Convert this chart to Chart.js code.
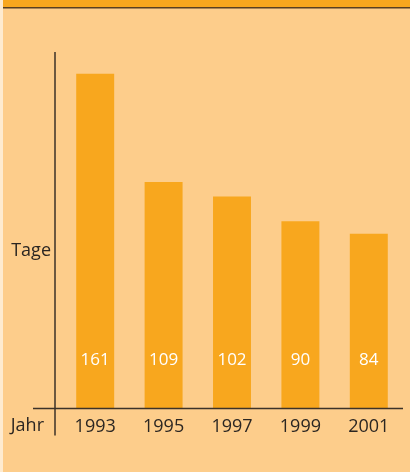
<!DOCTYPE html>
<html>
<head>
<meta charset="utf-8">
<script src="https://cdn.jsdelivr.net/npm/chart.js@4.4.1/dist/chart.umd.min.js"></script>
<style>
  html, body { margin: 0; padding: 0; background: #fdcd8b; }
  #wrap { width: 410px; height: 472px; }
</style>
</head>
<body>
<div id="wrap"><canvas id="chart" width="410" height="472"></canvas></div>
<script>
// data
const years = ['1993', '1995', '1997', '1999', '2001'];
const tage = [161, 109, 102, 90, 84];
const yLabel = 'Tage';
const xLabel = 'Jahr';

const BG = '#fdcd8b';
const BAR = '#f8a71e';
const INK = '#2b2622';
const FONT = '"Open Sans", "Noto Sans", sans-serif';

// background, header band, axis lines and side labels
const framePlugin = {
  id: 'frame',
  beforeDraw(chart) {
    const { ctx, width, height } = chart;
    ctx.save();
    ctx.fillStyle = '#feebd0';
    ctx.fillRect(0, 0, width, height);
    ctx.fillStyle = BG;
    ctx.fillRect(3, 0, width - 3, height);
    ctx.fillStyle = BAR;
    ctx.fillRect(3, 0, width - 3, 7);
    ctx.fillStyle = '#5a4020';
    ctx.fillRect(3, 7, width - 3, 1.5);
    ctx.restore();
  },
  afterDatasetsDraw(chart) {
    const { ctx, chartArea } = chart;
    const x = chart.scales.x;
    const axisX = chartArea.left - 6;
    ctx.save();
    ctx.strokeStyle = '#3c3228';
    ctx.lineWidth = 1.5;
    ctx.beginPath();
    ctx.moveTo(axisX, chartArea.top);
    ctx.lineTo(axisX, chartArea.bottom + 27);
    ctx.moveTo(33, chartArea.bottom);
    ctx.lineTo(chartArea.right, chartArea.bottom);
    ctx.stroke();

    ctx.fillStyle = INK;
    ctx.font = '18px ' + FONT;
    ctx.textAlign = 'right';
    ctx.textBaseline = 'middle';
    ctx.fillText(yLabel, axisX - 4, 251);
    ctx.fillText(xLabel, axisX - 11, chartArea.bottom + 17);

    // values inside bars
    ctx.fillStyle = '#ffffff';
    ctx.font = '17px ' + FONT;
    ctx.textAlign = 'center';
    tage.forEach((v, i) => {
      ctx.fillText(String(v), x.getPixelForValue(i), chartArea.bottom - 48);
    });
    ctx.restore();
  }
};

new Chart(document.getElementById('chart'), {
  type: 'bar',
  data: {
    labels: years,
    datasets: [{
      data: tage,
      backgroundColor: BAR,
      borderWidth: 0,
      categoryPercentage: 1,
      barPercentage: 0.555
    }]
  },
  options: {
    responsive: false,
    animation: false,
    layout: { padding: { left: 61, right: 7, top: 52, bottom: 26 } },
    plugins: {
      legend: { display: false },
      tooltip: { enabled: false }
    },
    scales: {
      x: {
        grid: { display: false, drawTicks: false },
        border: { display: false },
        ticks: {
          color: INK,
          font: { family: FONT, size: 18 },
          padding: 8,
          maxRotation: 0
        }
      },
      y: {
        display: false,
        min: 0,
        max: 171.5
      }
    }
  },
  plugins: [framePlugin]
});
</script>
</body>
</html>
